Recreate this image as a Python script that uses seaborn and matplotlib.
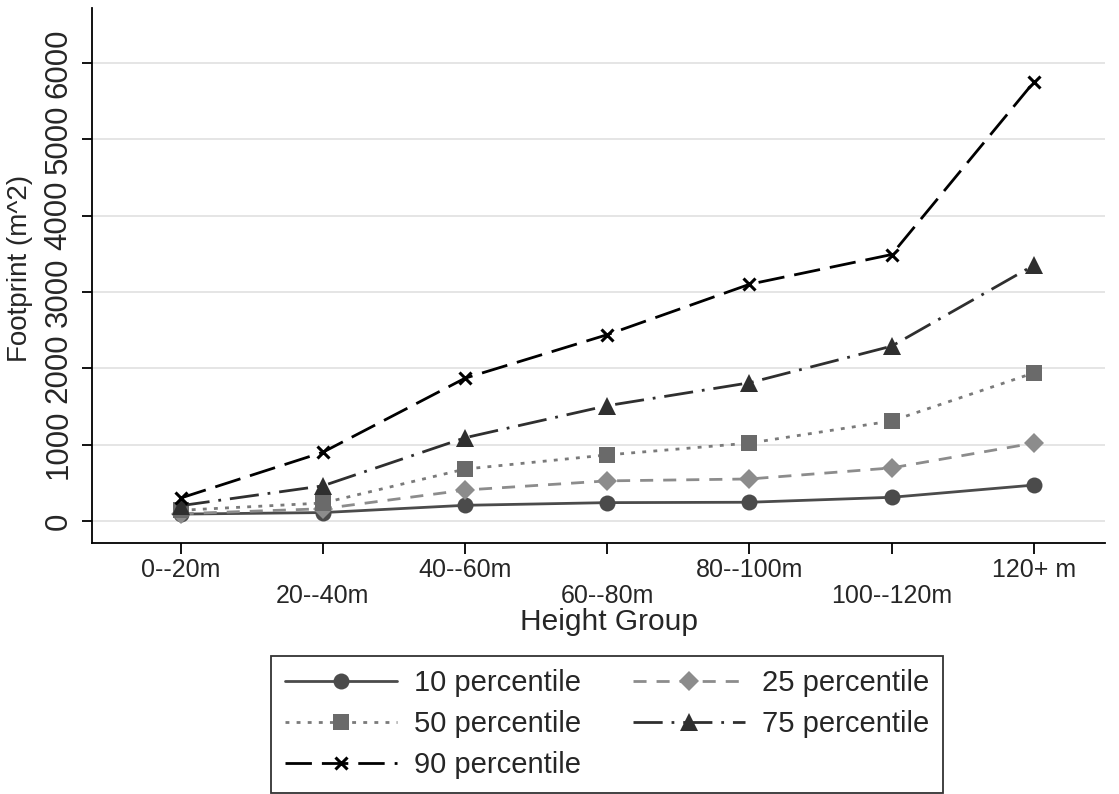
import seaborn as sns
import matplotlib.pyplot as plt
import pandas as pd

groups = ['0--20m', '20--40m', '40--60m', '60--80m', '80--100m', '100--120m', '120+ m']
p10 = [90, 110, 205, 240, 245, 310, 470]
p25 = [95, 160, 405, 525, 550, 695, 1020]
p50 = [140, 235, 680, 865, 1020, 1310, 1940]
p75 = [200, 460, 1090, 1510, 1810, 2290, 3350]
p90 = [300, 900, 1870, 2440, 3100, 3490, 5750]

series = {
    '10 percentile': p10,
    '25 percentile': p25,
    '50 percentile': p50,
    '75 percentile': p75,
    '90 percentile': p90,
}
# line colour, marker colour, marker, marker size, dash pattern (None = solid)
styles = {
    '10 percentile': ('#4b4b4b', '#4b4b4b', 'o', 11.5, None),
    '25 percentile': ('#8c8c8c', '#8c8c8c', 'D', 10.5, (4.7, 3.6)),
    '50 percentile': ('#7a7a7a', '#6a6a6a', 's', 11.5, (1.4, 2.6)),
    '75 percentile': ('#2f2f2f', '#2f2f2f', '^', 13.5, (10.5, 3.2, 1.0, 3.2)),
    '90 percentile': ('#000000', '#000000', 'x', 8.5, (9.5, 3.6)),
}

rows = []
for name, vals in series.items():
    for i, v in enumerate(vals):
        rows.append({'pos': i, 'value': v, 'series': name})
df = pd.DataFrame(rows)

sns.set_style('white')
plt.rcParams['font.family'] = ['Liberation Sans', 'DejaVu Sans']

fig = plt.figure(figsize = (11.19, 7.94), dpi = 100)
ax = fig.add_axes([0.082, 0.316, 0.9055, 0.674])

for name in series:
    lc, mc, mk, ms, dash = styles[name]
    sns.lineplot(
        data = df[df['series'] == name], x = 'pos', y = 'value', ax = ax,
        color = lc, marker = mk, markersize = ms,
        markerfacecolor = mc, markeredgecolor = mc,
        markeredgewidth = 2.2 if mk == 'x' else 0,
        linewidth = 2, label = name
    )
    if dash is not None:
        ax.get_lines()[-1].set_dashes(dash)

ax.set_xlim(-0.625, 6.5)
ax.set_ylim(-290, 6720)
yt = list(range(0, 7000, 1000))
ax.set_yticks(yt)
ax.set_yticklabels([str(t) for t in yt], rotation = 90, va = 'center', fontsize = 22.5)
ax.set_xticks(range(len(groups)))
ax.set_xticklabels(groups, fontsize = 18)
for i, lab in enumerate(ax.get_xticklabels()):
    if i % 2 == 1:
        lab.set_y(-0.047)
ax.yaxis.grid(True, color = '#e3e3e3', linewidth = 1.3)
ax.xaxis.grid(False)
for s in ['top', 'right']:
    ax.spines[s].set_visible(False)
for s in ['left', 'bottom']:
    ax.spines[s].set_color('black')
    ax.spines[s].set_linewidth(1.3)
ax.tick_params(axis = 'x', direction = 'out', length = 8, width = 1.3, color = 'black', bottom = True, pad = 3)
ax.tick_params(axis = 'y', direction = 'out', length = 7, width = 1.3, color = 'black', left = True, pad = 6)
ax.set_xlabel('Height Group', fontsize = 21.5)
ax.set_ylabel('Footprint (m^2)', fontsize = 20)
ax.xaxis.set_label_coords(0.51, -0.122)
ax.yaxis.set_label_coords(-0.058, 0.514)

handles, labels = ax.get_legend_handles_labels()
ax.get_legend().remove()
# matplotlib fills legend columns first; reorder so rows read 10/25, 50/75, 90
order = [0, 2, 4, 1, 3]
leg = fig.legend(
    handles = [handles[i] for i in order], labels = [labels[i] for i in order], ncol = 2,
    loc = 'upper center', bbox_to_anchor = (0.5425, 0.1738),
    fontsize = 21, handlelength = 3.85, handletextpad = 0.6, frameon = True, fancybox = False,
    edgecolor = 'black', borderpad = 0.45, labelspacing = 0.45, columnspacing = 1.75,
    borderaxespad = 0
)
leg.get_frame().set_linewidth(1.3)

fig.savefig('out.png', dpi = 100)
